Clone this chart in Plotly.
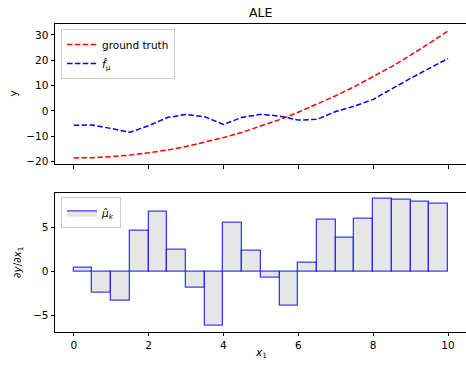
import plotly.graph_objects as go

W, H = 466, 367

# ---- data ----
x_grid = [0.0, 0.5, 1.0, 1.5, 2.0, 2.5, 3.0, 3.5, 4.0, 4.5, 5.0,
          5.5, 6.0, 6.5, 7.0, 7.5, 8.0, 8.5, 9.0, 9.5, 10.0]
ground_truth = [-18.5, -18.4, -18.0, -17.4, -16.5, -15.4, -14.0, -12.4, -10.5, -8.4, -6.0,
                -3.4, -0.5, 2.6, 6.0, 9.6, 13.5, 17.6, 22.0, 26.6, 31.5]
f_mu = [-5.6, -5.55, -6.9, -8.4, -5.8, -2.6, -1.35, -2.3, -5.3, -2.5, -1.3,
        -2.0, -3.6, -3.3, -0.2, 1.9, 4.6, 8.9, 12.9, 16.8, 20.7]
bin_centers = [0.25, 0.75, 1.25, 1.75, 2.25, 2.75, 3.25, 3.75, 4.25, 4.75,
               5.25, 5.75, 6.25, 6.75, 7.25, 7.75, 8.25, 8.75, 9.25, 9.75]
mu_k = [0.42, -2.4, -3.38, 4.64, 6.77, 2.47, -1.83, -6.16, 5.59, 2.40,
        -0.76, -3.95, 0.95, 5.86, 3.80, 6.05, 8.33, 8.14, 7.95, 7.76]

x_ticks = [0, 2, 4, 6, 8, 10]
y1_ticks = [-20, -10, 0, 10, 20, 30]
y2_ticks = [-5, 0, 5]

def lab(v):
    return str(v).replace("-", "\u2212")

FONT = "DejaVu Sans"
FS = 10.5
BAR_FILL = "#e6e6e6"
BAR_EDGE = "rgba(0,0,255,0.75)"

def px_x(p):
    return p / W

def px_y(p):
    return 1 - p / H

left = 55
x0 = -0.5
ppu = 37.43
x1 = x0 + (W - left) / ppu

fig = go.Figure()

fig.add_trace(go.Scatter(x=x_grid, y=ground_truth, mode="lines", name="ground truth",
                         line=dict(color="#ff0000", width=1.5, dash="5.5px,2.4px"),
                         xaxis="x", yaxis="y", legend="legend"))
fig.add_trace(go.Scatter(x=x_grid, y=f_mu, mode="lines", name="<i>f̂</i><sub>μ</sub>",
                         line=dict(color="#0000ff", width=1.5, dash="5.5px,2.4px"),
                         xaxis="x", yaxis="y", legend="legend"))
fig.add_trace(go.Bar(x=bin_centers, y=mu_k, width=0.5, name="<i>μ̂</i><sub><i>k</i></sub>",
                     marker=dict(color=BAR_FILL, line=dict(color=BAR_EDGE, width=1.3)),
                     xaxis="x2", yaxis="y2", showlegend=False))
# legend-only entry drawn as a wide patch like matplotlib's
fig.add_trace(go.Scatter(x=[None], y=[None], mode="lines", fill="toself",
                         fillcolor=BAR_FILL, line=dict(color=BAR_EDGE, width=1.3),
                         name="<i>μ̂</i><sub><i>k</i></sub>",
                         xaxis="x2", yaxis="y2", legend="legend2", hoverinfo="skip"))

axis_common = dict(showline=True, mirror=True, linecolor="black", linewidth=1,
                   ticks="outside", ticklen=3.5, tickwidth=1, tickcolor="black",
                   showgrid=False, zeroline=False, automargin=False,
                   tickfont=dict(family=FONT, size=FS, color="black"))

fig.update_layout(
    template="none",
    width=W, height=H,
    margin=dict(l=0, r=0, t=0, b=0, pad=0),
    paper_bgcolor="white", plot_bgcolor="white",
    font=dict(family=FONT, size=FS, color="black"),
    showlegend=True,
    bargap=0,
    xaxis=dict(domain=[px_x(left), 1], range=[x0, x1], anchor="y",
               tickvals=x_ticks, ticktext=["" for _ in x_ticks], **axis_common),
    yaxis=dict(domain=[px_y(164), px_y(24)], range=[-20.9, 34.3], anchor="x",
               tickvals=y1_ticks, ticktext=[lab(v) for v in y1_ticks], **axis_common),
    xaxis2=dict(domain=[px_x(left), 1], range=[x0, x1], anchor="y2",
                tickvals=x_ticks, ticktext=[lab(v) for v in x_ticks], **axis_common),
    yaxis2=dict(domain=[px_y(331.7), px_y(192.7)], range=[-6.89, 8.96], anchor="x2",
                tickvals=y2_ticks, ticktext=[lab(v) for v in y2_ticks], **axis_common),
    legend=dict(x=px_x(61), y=px_y(29), xanchor="left", yanchor="top",
                bgcolor="rgba(255,255,255,0.8)", bordercolor="#cccccc", borderwidth=1,
                font=dict(family=FONT, size=FS), itemwidth=30, tracegroupgap=0),
    legend2=dict(x=px_x(61), y=px_y(197.3), xanchor="left", yanchor="top",
                 bgcolor="rgba(255,255,255,0.8)", bordercolor="#cccccc", borderwidth=1,
                 font=dict(family=FONT, size=FS), itemwidth=30),
    annotations=[
        dict(text="ALE", x=px_x(261), y=px_y(13), xref="paper", yref="paper",
             showarrow=False, font=dict(family=FONT, size=12.5), xanchor="center", yanchor="middle"),
        dict(text="y", x=px_x(12.5), y=px_y(94), xref="paper", yref="paper",
             showarrow=False, textangle=-90, font=dict(family=FONT, size=FS),
             xanchor="center", yanchor="middle"),
        dict(text="∂<i>y</i>/∂<i>x</i><sub>1</sub>", x=px_x(18), y=px_y(262), xref="paper", yref="paper",
             showarrow=False, textangle=-90, font=dict(family=FONT, size=FS),
             xanchor="center", yanchor="middle"),
        dict(text="<i>x</i><sub>1</sub>", x=px_x(261), y=px_y(353), xref="paper", yref="paper",
             showarrow=False, font=dict(family=FONT, size=FS),
             xanchor="center", yanchor="middle"),
    ],
)

fig.write_html("out.html", config={"displayModeBar": False},
               post_script="document.body.style.margin='0';document.body.style.overflow='hidden';")
